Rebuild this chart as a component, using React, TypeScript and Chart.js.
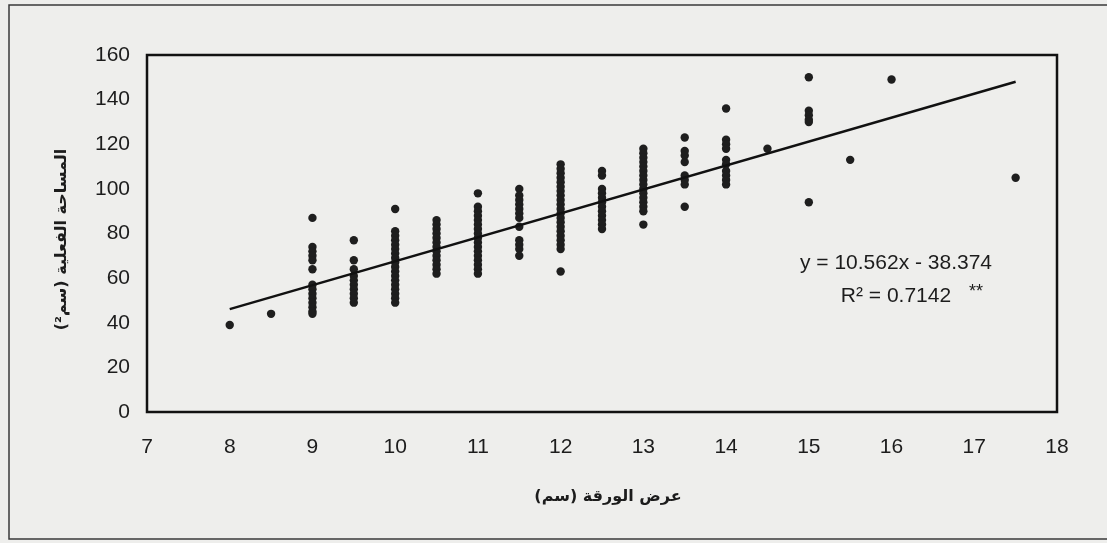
import { useEffect, useRef } from "react";
import { Chart, registerables } from "chart.js";

Chart.register(...registerables);

// ---- tick labels ----
const xTickValues = [7, 8, 9, 10, 11, 12, 13, 14, 15, 16, 17, 18];
const yTickValues = [0, 20, 40, 60, 80, 100, 120, 140, 160];

// ---- axis titles / annotation ----
const xTitle = "عرض الورقة (سم)";
const yTitle = "المساحة الفعلية (سم²)";
const equationText = "y = 10.562x - 38.374";
const r2Text = "R² = 0.7142";
const starsText = "**";

// ---- leaf width groups (cm) and leaf areas (cm²) ----
const areaAt8 = [39];
const areaAt8_5 = [44];
const areaAt9 = [87, 74, 72, 70, 68, 64, 57, 55, 53, 51, 49, 47, 45, 44];
const areaAt9_5 = [77, 68, 64, 61, 59, 57, 55, 53, 51, 49];
const areaAt10 = [91, 81, 79, 77, 75, 73, 71, 69, 67, 65, 63, 61, 59, 57, 55, 53, 51, 49];
const areaAt10_5 = [86, 84, 82, 80, 78, 76, 74, 72, 70, 68, 66, 64, 62];
const areaAt11 = [98, 92, 90, 88, 86, 84, 82, 80, 78, 76, 74, 72, 70, 68, 66, 64, 62];
const areaAt11_5 = [100, 97, 95, 93, 91, 89, 87, 83, 77, 75, 73, 70];
const areaAt12 = [111, 109, 107, 105, 103, 101, 99, 97, 95, 93, 91, 89, 87, 85, 83, 81, 79, 77, 75, 73, 63];
const areaAt12_5 = [108, 106, 100, 98, 96, 94, 92, 90, 88, 86, 84, 82];
const areaAt13 = [118, 116, 114, 112, 110, 108, 106, 104, 102, 100, 98, 96, 94, 92, 90, 84];
const areaAt13_5 = [123, 117, 115, 112, 106, 104, 102, 92];
const areaAt14 = [136, 122, 120, 118, 113, 111, 108, 106, 104, 102];
const areaAt14_5 = [118];
const areaAt15 = [150, 135, 133, 131, 130, 94];
const areaAt15_5 = [113];
const areaAt16 = [149];
const areaAt17_5 = [105];

const widthGroups = [8, 8.5, 9, 9.5, 10, 10.5, 11, 11.5, 12, 12.5, 13, 13.5, 14, 14.5, 15, 15.5, 16, 17.5];
const areaGroups = [
  areaAt8, areaAt8_5, areaAt9, areaAt9_5, areaAt10, areaAt10_5, areaAt11, areaAt11_5, areaAt12,
  areaAt12_5, areaAt13, areaAt13_5, areaAt14, areaAt14_5, areaAt15, areaAt15_5, areaAt16, areaAt17_5,
];

// ---- fitted trend line end points ----
const trendX = [8, 17.5];
const trendY = [46.1, 148];

const TEXT = "#1c1c1c";
const BG = "#eeeeec";
const NUM_FONT = "'Liberation Sans', Arial, sans-serif";
const AR_FONT = "'DejaVu Sans', 'Noto Sans', sans-serif";

const decorPlugin = {
  id: "decor",
  beforeDraw(chart: any) {
    const ctx = chart.ctx as CanvasRenderingContext2D;
    ctx.save();
    ctx.fillStyle = BG;
    ctx.fillRect(0, 0, chart.width, chart.height);
    // outer frame (open on the right as in the scan)
    ctx.strokeStyle = "#3a3a3a";
    ctx.lineWidth = 1.5;
    ctx.beginPath();
    ctx.moveTo(chart.width, 5);
    ctx.lineTo(9, 5);
    ctx.lineTo(9, 539);
    ctx.lineTo(chart.width, 539);
    ctx.stroke();
    ctx.restore();
  },
  afterDraw(chart: any) {
    const ctx = chart.ctx as CanvasRenderingContext2D;
    const a = chart.chartArea;
    ctx.save();
    // plot area border
    ctx.strokeStyle = "#111";
    ctx.lineWidth = 2.5;
    ctx.strokeRect(a.left, a.top, a.right - a.left, a.bottom - a.top);

    // axis titles
    ctx.fillStyle = TEXT;
    ctx.direction = "rtl";
    ctx.textAlign = "center";
    ctx.textBaseline = "middle";
    ctx.font = `bold 16px ${AR_FONT}`;
    ctx.fillText(xTitle, (a.left + a.right) / 2 + 6, 497);
    ctx.save();
    ctx.translate(62, (a.top + a.bottom) / 2 + 6);
    ctx.rotate(-Math.PI / 2);
    ctx.fillText(yTitle, 0, 0);
    ctx.restore();

    // regression annotation
    ctx.direction = "ltr";
    ctx.font = `21px ${NUM_FONT}`;
    ctx.textAlign = "center";
    const cx = 896;
    ctx.fillText(equationText, cx, 263);
    ctx.fillText(r2Text, cx, 296);
    ctx.font = `18px ${NUM_FONT}`;
    ctx.textAlign = "left";
    ctx.fillText(starsText, 969, 292);
    ctx.restore();
  },
};

export default function App() {
  const ref = useRef<HTMLCanvasElement>(null);

  useEffect(() => {
    document.body.style.margin = "0";
    document.body.style.background = BG;
    const points: { x: number; y: number }[] = [];
    widthGroups.forEach((w, i) => {
      areaGroups[i].forEach((v) => points.push({ x: w, y: v }));
    });
    const trend = trendX.map((x, i) => ({ x, y: trendY[i] }));

    const chart = new Chart(ref.current!, {
      type: "scatter",
      data: {
        datasets: [
          {
            type: "line",
            data: trend,
            borderColor: "#111",
            borderWidth: 2.5,
            pointRadius: 0,
            fill: false,
            order: 0,
          } as any,
          {
            data: points,
            backgroundColor: "#1e1e1e",
            borderColor: "#1e1e1e",
            borderWidth: 0,
            pointRadius: 4.2,
            pointHoverRadius: 4.2,
            order: 1,
          },
        ],
      },
      options: {
        animation: false,
        responsive: false,
        events: [],
        layout: { padding: { top: 55, right: 50, left: 0, bottom: 0 } },
        plugins: { legend: { display: false }, tooltip: { enabled: false } },
        scales: {
          x: {
            type: "linear",
            min: 7,
            max: 18,
            afterFit: (s: any) => {
              s.height = 131;
            },
            afterBuildTicks: (s: any) => {
              s.ticks = xTickValues.map((v) => ({ value: v }));
            },
            grid: { display: false, drawTicks: false },
            border: { display: false },
            ticks: {
              padding: 23,
              color: TEXT,
              font: { family: NUM_FONT, size: 21 },
              maxRotation: 0,
            },
          },
          y: {
            type: "linear",
            min: 0,
            max: 160,
            afterFit: (s: any) => {
              s.width = 147;
            },
            afterBuildTicks: (s: any) => {
              s.ticks = yTickValues.map((v) => ({ value: v }));
            },
            grid: { display: false, drawTicks: false },
            border: { display: false },
            ticks: {
              padding: 17,
              color: TEXT,
              font: { family: NUM_FONT, size: 21 },
            },
          },
        },
      },
      plugins: [decorPlugin],
    });
    return () => chart.destroy();
  }, []);

  return <canvas ref={ref} width={1107} height={543} style={{ display: "block" }} />;
}
